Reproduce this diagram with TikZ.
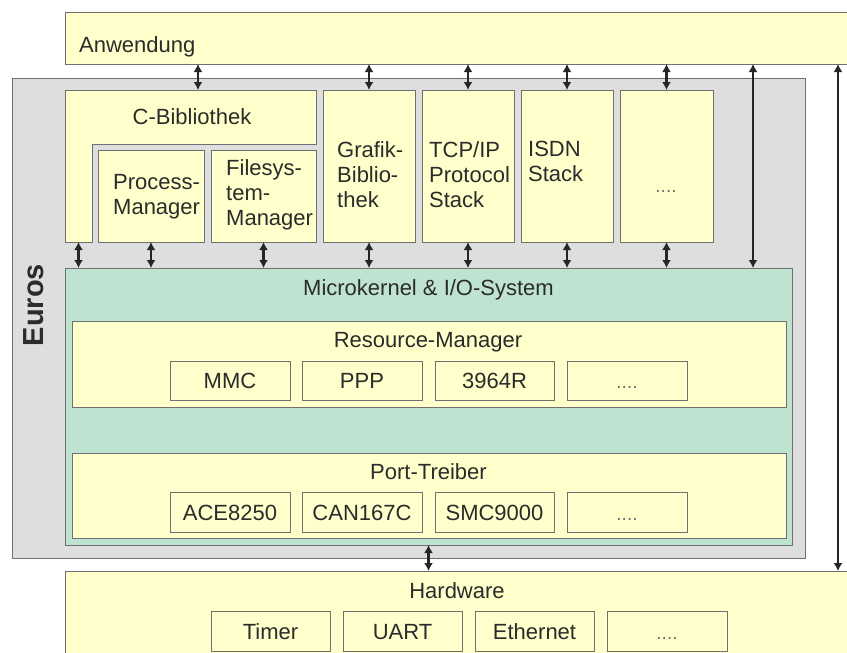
\documentclass[tikz,border=0pt]{standalone}
\usepackage{fontspec}
\setmainfont{Liberation Sans}
\usetikzlibrary{arrows.meta}

\definecolor{paleyellow}{HTML}{FFFFCC}
\definecolor{kernelgreen}{HTML}{BFE3D1}
\definecolor{eurosgray}{HTML}{DEDEDE}
\definecolor{framegray}{HTML}{707070}
\definecolor{inkgray}{HTML}{2B2B2B}

\tikzset{
  boxline/.style={draw=framegray, line width=1pt, fill=paleyellow},
  box/.style={boxline, anchor=north west, inner sep=0pt, outer sep=0pt},
  txt/.style={font=\fontsize{22}{25}\selectfont, text=inkgray, inner sep=0pt},
  dots/.style={font=\fontsize{19}{21}\selectfont, text=framegray, inner sep=0pt, anchor=base},
  biarrow/.style={draw=black!85, line width=2.3pt, {Latex[length=8pt,width=9pt]}-{Latex[length=8pt,width=9pt]}}
}

\begin{document}
\begin{tikzpicture}[x=1pt, y=-1pt]
    \useasboundingbox (0,0) rectangle (847,653);

    % Application layer on top, hardware below
    \node[box, minimum width=800pt, minimum height=52pt] (anw) at (65,12) {};
    \node[txt, anchor=base west] (anwtext) at (79,52) {Anwendung};
    \node[box, minimum width=800pt, minimum height=100pt] (hw) at (65,571) {};
    \node[txt, anchor=base] (hwtext) at (457,598) {Hardware};

    % Euros frame
    \node[box, fill=eurosgray, minimum width=793pt, minimum height=480pt] (euros) at (12,78) {};
    \node[txt, font=\fontsize{29}{32}\selectfont\bfseries, rotate=90] (eurostext) at (34,305) {Euros};

    % C-Bibliothek (L-shaped) with its managers
    \draw[boxline]
        (65,90) -- (316,90) -- (316,144) -- (92,144) -- (92,242) -- (65,242) -- cycle;
    \node[txt, anchor=base] (cbib) at (192,124) {C-Bibliothek};
    \coordinate (cbibtop) at (198,90);
    \coordinate (cbibfoot) at (78.5,242);
    \node[box, minimum width=106pt, minimum height=92pt] (proc) at (98,150) {};
    \node[txt, align=left, anchor=north west] (proctext) at (113,174) {Process-\\Manager};
    \node[box, minimum width=105pt, minimum height=92pt] (files) at (211,150) {};
    \node[txt, align=left, anchor=north west] (filestext) at (226,159) {Filesys-\\tem-\\Manager};

    % Libraries and stacks
    \node[box, minimum width=92pt, minimum height=152pt] (grafik) at (323,90) {};
    \node[txt, align=left, anchor=north west] (grafiktext) at (337,141) {Grafik-\\Biblio-\\thek};
    \node[box, minimum width=92pt, minimum height=152pt] (tcp) at (422,90) {};
    \node[txt, align=left, anchor=north west] (tcptext) at (429,141) {TCP/IP\\Protocol\\Stack};
    \node[box, minimum width=92pt, minimum height=152pt] (isdn) at (521,90) {};
    \node[txt, align=left, anchor=north west] (isdntext) at (528,141) {ISDN\\Stack};
    \node[box, minimum width=93pt, minimum height=152pt] (more) at (620,90) {};
    \node[dots] (moretext) at (666,192) {....};

    % Microkernel with resource manager and port drivers
    \node[box, fill=kernelgreen, minimum width=727pt, minimum height=277pt] (mk) at (65,268) {};
    \node[txt, anchor=base] (mktext) at (428.5,295) {Microkernel \& I/O-System};
    \node[box, minimum width=714pt, minimum height=86pt] (res) at (72,321) {};
    \node[txt, anchor=base] (restext) at (428,347) {Resource-Manager};
    \node[box, minimum width=714pt, minimum height=85pt] (port) at (72,453) {};
    \node[txt, anchor=base] (porttext) at (428.5,479) {Port-Treiber};

    \node[box, minimum width=120pt, minimum height=39pt] (mmc) at (170,361) {};
    \node[txt, anchor=base] at (230,388) {MMC};
    \node[box, minimum width=120pt, minimum height=39pt] (ppp) at (302,361) {};
    \node[txt, anchor=base] at (362,388) {PPP};
    \node[box, minimum width=119pt, minimum height=39pt] (r3964) at (435,361) {};
    \node[txt, anchor=base] at (494.5,388) {3964R};
    \node[box, minimum width=120pt, minimum height=39pt] (resmore) at (567,361) {};
    \node[dots] at (627,388) {....};

    \node[box, minimum width=120pt, minimum height=40pt] (ace) at (170,492) {};
    \node[txt, anchor=base] at (230,520) {ACE8250};
    \node[box, minimum width=120pt, minimum height=40pt] (can) at (302,492) {};
    \node[txt, anchor=base] at (362,520) {CAN167C};
    \node[box, minimum width=119pt, minimum height=40pt] (smc) at (435,492) {};
    \node[txt, anchor=base] at (494.5,520) {SMC9000};
    \node[box, minimum width=120pt, minimum height=40pt] (portmore) at (567,492) {};
    \node[dots] at (627,520) {....};

    % Hardware units
    \node[box, minimum width=119pt, minimum height=40pt] (timer) at (211,611) {};
    \node[txt, anchor=base] at (270.5,639) {Timer};
    \node[box, minimum width=119pt, minimum height=40pt] (uart) at (343,611) {};
    \node[txt, anchor=base] at (402.5,639) {UART};
    \node[box, minimum width=119pt, minimum height=40pt] (eth) at (475,611) {};
    \node[txt, anchor=base] at (534.5,639) {Ethernet};
    \node[box, minimum width=120pt, minimum height=40pt] (hwmore) at (607,611) {};
    \node[dots] at (667,639) {....};

    % Arrows from the application
    \draw[biarrow] (anw.south -| cbibtop) -- (cbibtop);
    \foreach \n in {grafik,tcp,isdn,more}
        \draw[biarrow] (anw.south -| \n.north) -- (\n.north);
    \coordinate (mkport) at (753,268);
    \draw[biarrow] (anw.south -| mkport) -- (mkport);
    \coordinate (hwport) at (838,571);
    \draw[biarrow] (anw.south -| hwport) -- (hwport);

    % Arrows down to the microkernel
    \draw[biarrow] (cbibfoot) -- (cbibfoot |- mk.north);
    \foreach \n in {proc,files,grafik,tcp,isdn,more}
        \draw[biarrow] (\n.south) -- (\n.south |- mk.north);
    \draw[biarrow] (mk.south) -- (mk.south |- hw.north);
\end{tikzpicture}
\end{document}
